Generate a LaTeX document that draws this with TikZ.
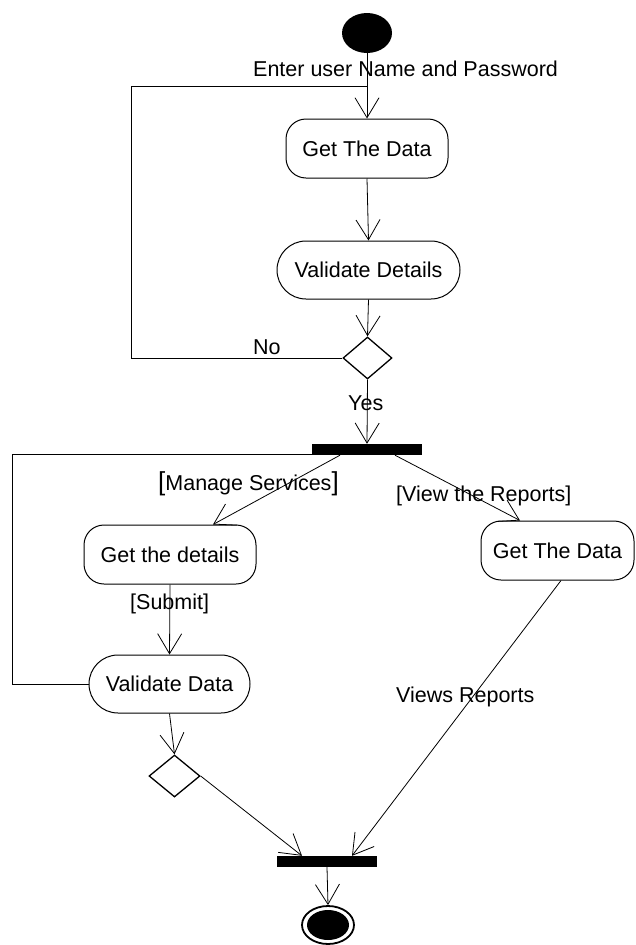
\documentclass[tikz,border=0pt]{standalone}
\usepackage{fontspec}
\setmainfont{Liberation Sans}
\usetikzlibrary{arrows.meta,shapes.geometric}
\begin{document}
\begin{tikzpicture}[x=1pt,y=-1pt,
  every node/.style={font=\fontsize{21.5}{24}\selectfont},
  act/.style={draw, line width=1pt, rounded corners=20pt, inner sep=0pt},
  stadium/.style={draw, line width=1pt, rounded corners=29pt, inner sep=0pt},
  bar/.style={fill=black, draw=none, inner sep=0pt},
  dec/.style={draw, diamond, line width=1.3pt, inner sep=0pt, aspect=1.17},
  flow/.style={line width=0.8pt, -{Straight Barb[length=20pt,width=24pt]}},
  plain/.style={line width=0.8pt},
  lbl/.style={anchor=base west, inner sep=0pt}]
\useasboundingbox (0,0) rectangle (635,945);
% nodes
\node[ellipse, fill=black, minimum width=50pt, minimum height=40pt, inner sep=0pt] (start) at (367,33) {};
\node[act, minimum width=162pt, minimum height=59pt] (gd1) at (367,148.5) {Get The Data};
\node[stadium, minimum width=183pt, minimum height=58pt] (vd) at (368.5,270) {Validate Details};
\node[dec, minimum width=49pt, minimum height=42pt] (d1) at (367.5,358) {};
\node[bar, minimum width=110pt, minimum height=11pt] (b1) at (367,449.5) {};
\node[act, minimum width=172pt, minimum height=59pt] (gdet) at (170,554.5) {Get the details};
\node[act, minimum width=153pt, minimum height=59pt] (gdr) at (557.5,550.5) {Get The Data};
\node[stadium, minimum width=161pt, minimum height=58pt] (vdata) at (169.5,684) {Validate Data};
\node[dec, minimum width=51pt, minimum height=42pt] (d2) at (174.5,776) {};
\node[bar, minimum width=100pt, minimum height=11pt] (b2) at (327,861.5) {};
\node[ellipse, draw, line width=1.8pt, minimum width=52pt, minimum height=38pt, inner sep=0pt] (end) at (328,925) {};
\node[ellipse, fill=black, minimum width=42pt, minimum height=30pt, inner sep=0pt] (endin) at (end.center) {};
% labels
\node[lbl] (lenter) at (253,76) {Enter user Name and Password};
\node[lbl] (lno) at (253,354) {No};
\node[lbl] (lyes) at (348,410) {Yes};
\node[lbl] (lmanage) at (158,490) {{\fontsize{26}{26}\selectfont[}Manage Services{\fontsize{26}{26}\selectfont]}};
\node[lbl] (lview) at (396,501) {[View the Reports]};
\node[lbl] (lsubmit) at (130,609) {[Submit]};
\node[lbl] (lviews) at (396,702) {Views Reports};
% connectors
\coordinate (j1) at (367,86);
\coordinate (l1) at (131,86);
\coordinate (l2) at (12,454);
\draw[flow] (start.south) -- (gd1.north);
\draw[plain] (d1.west) -| (l1) -- (j1);
\draw[flow] (gd1.south) -- (vd.north);
\draw[flow] (vd.south) -- (d1.north);
\draw[flow] (d1.south) -- (b1.north);
\draw[plain] (vdata.west) -| (l2) -- (b1.west |- l2);
\draw[flow] ([xshift=-27pt]b1.south) -- ([xshift=43pt]gdet.north);
\draw[flow] ([xshift=28pt]b1.south) -- ([xshift=-37.5pt]gdr.north);
\draw[flow] (gdet.south) -- (vdata.north);
\draw[flow] (vdata.south) -- (d2.north);
\draw[flow] (d2.east) -- ([xshift=-25pt]b2.north);
\draw[flow] ([xshift=3.5pt]gdr.south) -- ([xshift=25pt]b2.north);
\draw[flow] (b2.south) -- (end.north);
\end{tikzpicture}
\end{document}
